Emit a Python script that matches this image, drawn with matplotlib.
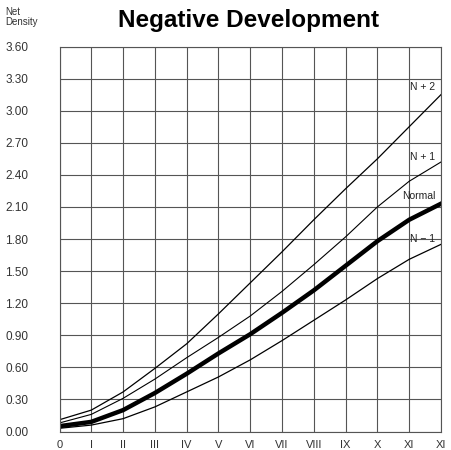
import matplotlib
matplotlib.use('Agg')
import matplotlib.pyplot as plt

# step numbers along the bottom (0 .. XII)
steps = list(range(13))
step_labels = ['0', 'I', 'II', 'III', 'IV', 'V', 'VI', 'VII', 'VIII', 'IX', 'X', 'XI', 'XI']
density_ticks = [0.00, 0.30, 0.60, 0.90, 1.20, 1.50, 1.80, 2.10, 2.40, 2.70, 3.00, 3.30, 3.60]

# net density
n_plus2 = [0.11, 0.20, 0.37, 0.59, 0.82, 1.10, 1.39, 1.68, 1.98, 2.27, 2.55, 2.85, 3.15]
n_plus1 = [0.08, 0.16, 0.31, 0.49, 0.69, 0.88, 1.08, 1.31, 1.56, 1.82, 2.10, 2.34, 2.52]
normal = [0.05, 0.09, 0.20, 0.36, 0.54, 0.73, 0.91, 1.11, 1.32, 1.55, 1.78, 1.98, 2.13]
n_minus1 = [0.03, 0.06, 0.12, 0.23, 0.37, 0.51, 0.67, 0.85, 1.04, 1.23, 1.43, 1.61, 1.75]

curve_names = ['N + 2', 'N + 1', 'Normal', 'N \u2212 1']

plt.rcParams['font.family'] = ['Liberation Sans', 'DejaVu Sans']

fig = plt.figure(figsize=(4.51, 4.50), dpi=100)
ax = fig.add_axes([59.5/451, 18.5/450, (441-59.5)/451, (403.5-18.5)/450])

ax.set_xlim(0, 12)
ax.set_ylim(0, 3.6)

# grid drawn like graph paper
ax.set_xticks(steps)
ax.set_yticks(density_ticks)
ax.grid(True, color='#555555', linewidth=0.8)
for s in ax.spines.values():
    s.set_color('#555555')
    s.set_linewidth(0.8)

ax.set_xticklabels(step_labels, fontsize=8, color='#333333')
ax.set_yticklabels(['%.2f' % v for v in density_ticks], fontsize=8.5,
                   color='#333333', ha='left')
ax.tick_params(axis='both', length=0)
ax.tick_params(axis='y', pad=39)
ax.tick_params(axis='x', pad=6)

ax.plot(steps, n_plus2, color='black', linewidth=0.9)
ax.plot(steps, n_plus1, color='black', linewidth=0.8)
ax.plot(steps, normal, color='black', linewidth=3.2)
ax.plot(steps, n_minus1, color='black', linewidth=0.9)

# curve names, just above each curve's right end
ends = [n_plus2[-1], n_plus1[-1], normal[-1], n_minus1[-1]]
offsets = [0.07, 0.05, 0.07, 0.05]
for name, yend, off in zip(curve_names, ends, offsets):
    ax.text(11.82, yend + off, name, fontsize=7.5, ha='right', va='center',
            color='#222222')

fig.text(5/451, 1 - 17/450, 'Net\nDensity', fontsize=7, ha='left', va='center',
         color='#333333', linespacing=1.0)
fig.text(248/451, 1 - 21/450, 'Negative Development', fontsize=17.5,
         fontweight='bold', ha='center', va='center')

fig.savefig('out.png', dpi=100)
